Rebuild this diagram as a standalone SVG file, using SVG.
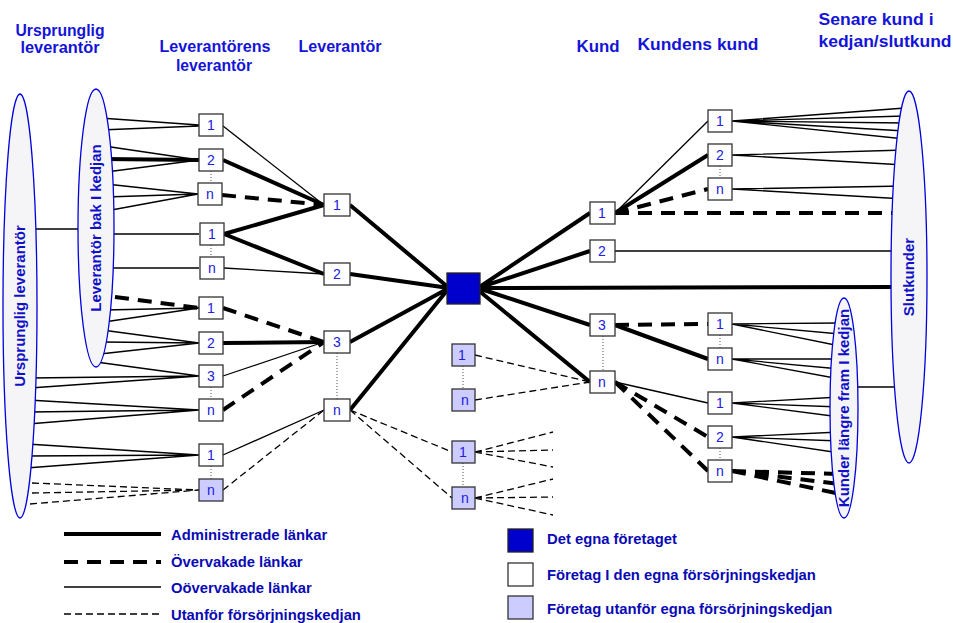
<svg xmlns="http://www.w3.org/2000/svg" width="953" height="623" viewBox="0 0 953 623">
  <style>
    .hdr { font-family: "Liberation Sans", Arial, sans-serif; font-weight: bold; font-size: 16px; fill: #1414d8; text-anchor: middle; }
    .elab { font-family: "Liberation Sans", Arial, sans-serif; font-weight: bold; font-size: 15px; fill: #1010c8; text-anchor: middle; }
    .leg { font-family: "Liberation Sans", Arial, sans-serif; font-weight: bold; font-size: 14.8px; fill: #0a0ab4; }
    .box { fill: #ffffff; stroke: #333333; stroke-width: 1.3; }
    .ext { fill: #ccccff; stroke: #333333; stroke-width: 1.3; }
    .own { fill: #0000cc; stroke: #222222; stroke-width: 1.3; }
    .num { font-family: "Liberation Sans", Arial, sans-serif; font-size: 14px; fill: #2020dd; text-anchor: middle; }
    .ell { fill: #f5f5f7; stroke: #0000dd; stroke-width: 1.3; }
    .thick { stroke: #000; stroke-width: 4; fill: none; }
    .thin { stroke: #000; stroke-width: 1.3; fill: none; }
    .tdash { stroke: #000; stroke-width: 4; fill: none; stroke-dasharray: 14 9; }
    .odash { stroke: #000; stroke-width: 1.3; fill: none; stroke-dasharray: 7 4; }
    .dot { stroke: #555; stroke-width: 1; fill: none; stroke-dasharray: 1 2; }
  </style>

  <!-- column headings -->
  <g id="headings">
    <text class="hdr" x="60" y="36" textLength="89" lengthAdjust="spacingAndGlyphs">Ursprunglig</text>
    <text class="hdr" x="60" y="53" textLength="79" lengthAdjust="spacingAndGlyphs">leverantör</text>
    <text class="hdr" x="215" y="52" textLength="111" lengthAdjust="spacingAndGlyphs">Leverantörens</text>
    <text class="hdr" x="214" y="71" textLength="76" lengthAdjust="spacingAndGlyphs">leverantör</text>
    <text class="hdr" x="340" y="52" textLength="83" lengthAdjust="spacingAndGlyphs">Leverantör</text>
    <text class="hdr" x="598" y="52" textLength="43" lengthAdjust="spacingAndGlyphs">Kund</text>
    <text class="hdr" x="698" y="50" textLength="121" lengthAdjust="spacingAndGlyphs">Kundens kund</text>
    <text class="hdr" x="876" y="25" textLength="115" lengthAdjust="spacingAndGlyphs">Senare kund i</text>
    <text class="hdr" x="885" y="47" textLength="133" lengthAdjust="spacingAndGlyphs">kedjan/slutkund</text>
  </g>

  <!-- links -->
  <g id="connectors">
    <!-- ellipse to ellipse -->
    <path class="thin" d="M30,229 L86,229"/>
    <path class="thin" d="M850,387 L900,387"/>

    <!-- upstream fans into first supplier tier -->
    <path class="thin" d="M100,118 L199,125 M100,130 L199,126"/>
    <path class="thin" d="M104,146 L199,160 M106,172 L199,160"/>
    <path class="thick" d="M104,159 L199,160"/>
    <path class="thin" d="M106,184 L198,194 M106,197 L198,194 M106,211 L198,194"/>
    <path class="thin" d="M106,234 L199,234"/>
    <path class="thin" d="M106,268 L199,268"/>
    <path class="tdash" d="M115,297 L199,308"/>
    <path class="thin" d="M104,310 L199,308 M104,322 L199,308"/>
    <path class="thin" d="M102,330 L199,343 M102,342 L199,343 M100,354 L199,343"/>
    <path class="thin" d="M96,362 L199,376 M30,378 L199,376 M30,388 L199,376"/>
    <path class="thin" d="M28,400 L199,410 M28,412 L199,410 M28,424 L199,410"/>
    <path class="thin" d="M27,444 L199,455 M27,456 L199,455 M26,468 L199,455"/>
    <path class="odash" d="M32,483 L199,490 M32,493 L199,490 M30,504 L199,490"/>

    <!-- supplier's supplier to supplier -->
    <path class="thin" d="M223,126 L324,205"/>
    <path class="thick" d="M223,160 L324,205"/>
    <path class="tdash" d="M222,195 L324,205"/>
    <path class="thick" d="M224,234 L324,205 M224,234 L324,274"/>
    <path class="thin" d="M224,268 L324,274"/>
    <path class="tdash" d="M223,308 L324,342"/>
    <path class="thick" d="M223,343 L324,342"/>
    <path class="thin" d="M223,376 L324,342"/>
    <path class="tdash" d="M223,410 L324,342"/>
    <path class="thin" d="M223,455 L324,410"/>
    <path class="odash" d="M223,490 L324,410"/>

    <!-- supplier to own company -->
    <path class="thick" d="M350,205 L449,288 M350,274 L449,288 M350,342 L449,288 M350,410 L449,288"/>

    <!-- outside the chain -->
    <path class="odash" d="M350,410 L452,452 M350,410 L452,498"/>
    <path class="odash" d="M475,452 L553,432 M475,452 L553,450 M475,452 L553,467"/>
    <path class="odash" d="M475,498 L553,479 M475,498 L553,497 M475,498 L553,515"/>
    <path class="odash" d="M475,355 L590,382 M475,400 L590,382"/>

    <!-- own company to customers -->
    <path class="thick" d="M478,288 L590,213 M478,288 L590,251 M478,288 L900,287 M478,288 L590,325 M478,290 L590,382"/>

    <!-- customer to customer's customer -->
    <path class="thin" d="M615,213 L708,121"/>
    <path class="thick" d="M615,213 L708,155"/>
    <path class="tdash" d="M615,213 L708,189"/>
    <path class="tdash" d="M615,213 L900,213"/>
    <path class="thin" d="M615,251 L900,251"/>
    <path class="tdash" d="M615,325 L708,324"/>
    <path class="thick" d="M615,325 L708,359"/>
    <path class="thin" d="M615,382 L708,403"/>
    <path class="tdash" d="M615,382 L708,437 M615,382 L708,471"/>

    <!-- fans to end customers -->
    <path class="thin" d="M732,121 L905,108 M732,121 L905,116 M732,121 L905,123 M732,121 L905,131 M732,121 L905,139"/>
    <path class="thin" d="M732,155 L905,150 M732,155 L905,165"/>
    <path class="thin" d="M732,189 L905,186 M732,189 L905,199"/>

    <!-- fans to customers further down the chain -->
    <path class="thin" d="M732,324 L840,323 M732,324 L840,334 M732,324 L840,346"/>
    <path class="thin" d="M732,359 L840,359 M732,359 L840,369 M732,359 L840,379"/>
    <path class="thin" d="M732,403 L840,397 M732,403 L840,407 M732,403 L840,417"/>
    <path class="thin" d="M732,437 L840,432 M732,437 L840,441 M732,437 L840,453"/>
    <path class="tdash" d="M732,471 L840,474 M732,471 L840,484 M732,471 L840,494"/>

    <!-- dotted group links -->
    <path class="dot" d="M211,171 V183 M211,245 V257 M211,387 V399 M211,466 V479 M337,353 V399 M463,366 V389 M463,463 V487 M603,336 V371 M720,166 V178 M720,335 V348 M720,448 V460"/>
  </g>

  <!-- groups of firms -->
  <g id="ursprunglig">
    <ellipse class="ell" cx="20" cy="306" rx="17" ry="212"/>
    <text class="elab" transform="translate(25,306) rotate(-90)">Ursprunglig leverantör</text>
  </g>
  <g id="bak-i-kedjan">
    <ellipse class="ell" cx="96" cy="228" rx="18" ry="139"/>
    <text class="elab" transform="translate(101,228) rotate(-90)">Leverantör bak I kedjan</text>
  </g>
  <g id="slutkunder">
    <ellipse class="ell" cx="909" cy="277" rx="18" ry="186"/>
    <text class="elab" transform="translate(914,277) rotate(-90)">Slutkunder</text>
  </g>
  <g id="fram-i-kedjan">
    <ellipse class="ell" cx="844" cy="408" rx="14" ry="110"/>
    <text class="elab" transform="translate(849,408) rotate(-90)">Kunder längre fram I kedjan</text>
  </g>

  <!-- supplier's suppliers -->
  <g id="a1"><rect class="box" x="199" y="114" width="24" height="22"/><text class="num" x="211" y="130">1</text></g>
  <g id="a2"><rect class="box" x="199" y="149" width="24" height="22"/><text class="num" x="211" y="165">2</text></g>
  <g id="an"><rect class="box" x="198" y="183" width="24" height="22"/><text class="num" x="210" y="199">n</text></g>
  <g id="a1b"><rect class="box" x="200" y="223" width="24" height="22"/><text class="num" x="212" y="239">1</text></g>
  <g id="anb"><rect class="box" x="200" y="257" width="24" height="22"/><text class="num" x="212" y="273">n</text></g>
  <g id="a1c"><rect class="box" x="199" y="297" width="24" height="22"/><text class="num" x="211" y="313">1</text></g>
  <g id="a2c"><rect class="box" x="199" y="332" width="24" height="22"/><text class="num" x="211" y="348">2</text></g>
  <g id="a3c"><rect class="box" x="199" y="365" width="24" height="22"/><text class="num" x="211" y="381">3</text></g>
  <g id="anc"><rect class="box" x="199" y="399" width="24" height="22"/><text class="num" x="211" y="415">n</text></g>
  <g id="a1d"><rect class="box" x="199" y="444" width="24" height="22"/><text class="num" x="211" y="460">1</text></g>
  <g id="and"><rect class="ext" x="199" y="479" width="24" height="22"/><text class="num" x="211" y="495">n</text></g>

  <!-- suppliers -->
  <g id="b1"><rect class="box" x="324" y="194" width="26" height="22"/><text class="num" x="337" y="210">1</text></g>
  <g id="b2"><rect class="box" x="324" y="263" width="26" height="22"/><text class="num" x="337" y="279">2</text></g>
  <g id="b3"><rect class="box" x="324" y="331" width="26" height="22"/><text class="num" x="337" y="347">3</text></g>
  <g id="bn"><rect class="box" x="324" y="399" width="26" height="22"/><text class="num" x="337" y="415">n</text></g>

  <!-- own company -->
  <g id="own"><rect class="own" x="447" y="273" width="33" height="31"/></g>

  <!-- firms outside the chain -->
  <g id="x1"><rect class="ext" x="452" y="344" width="23" height="22"/><text class="num" x="462" y="360">1</text></g>
  <g id="xn"><rect class="ext" x="452" y="389" width="23" height="22"/><text class="num" x="465" y="405">n</text></g>
  <g id="x1b"><rect class="ext" x="452" y="441" width="23" height="22"/><text class="num" x="463" y="457">1</text></g>
  <g id="xnb"><rect class="ext" x="452" y="487" width="23" height="22"/><text class="num" x="465" y="503">n</text></g>

  <!-- customers -->
  <g id="k1"><rect class="box" x="590" y="202" width="25" height="22"/><text class="num" x="602" y="218">1</text></g>
  <g id="k2"><rect class="box" x="590" y="240" width="25" height="22"/><text class="num" x="602" y="256">2</text></g>
  <g id="k3"><rect class="box" x="590" y="314" width="25" height="22"/><text class="num" x="602" y="330">3</text></g>
  <g id="kn"><rect class="box" x="590" y="371" width="25" height="22"/><text class="num" x="602" y="387">n</text></g>

  <!-- customer's customers -->
  <g id="c1"><rect class="box" x="708" y="110" width="24" height="22"/><text class="num" x="720" y="126">1</text></g>
  <g id="c2"><rect class="box" x="708" y="144" width="24" height="22"/><text class="num" x="720" y="160">2</text></g>
  <g id="cn"><rect class="box" x="708" y="178" width="24" height="22"/><text class="num" x="720" y="194">n</text></g>
  <g id="c1b"><rect class="box" x="708" y="313" width="24" height="22"/><text class="num" x="720" y="329">1</text></g>
  <g id="cnb"><rect class="box" x="708" y="348" width="24" height="22"/><text class="num" x="720" y="364">n</text></g>
  <g id="c1c"><rect class="box" x="708" y="392" width="24" height="22"/><text class="num" x="720" y="408">1</text></g>
  <g id="c2c"><rect class="box" x="708" y="426" width="24" height="22"/><text class="num" x="720" y="442">2</text></g>
  <g id="cnc"><rect class="box" x="708" y="460" width="24" height="22"/><text class="num" x="720" y="476">n</text></g>

  <!-- legend: link types -->
  <g id="legend-links">
    <path class="thick" d="M64,534 H161"/>
    <text class="leg" x="171" y="540">Administrerade länkar</text>
    <path class="tdash" d="M64,562 H161"/>
    <text class="leg" x="171" y="567">Övervakade länkar</text>
    <path class="thin" d="M64,587 H161"/>
    <text class="leg" x="171" y="593">Oövervakade länkar</text>
    <path class="odash" d="M64,614 H161"/>
    <text class="leg" x="171" y="620">Utanför försörjningskedjan</text>
  </g>

  <!-- legend: firm types -->
  <g id="legend-firms">
    <rect class="own" x="508" y="529" width="25" height="23"/>
    <text class="leg" x="547" y="544">Det egna företaget</text>
    <rect class="box" x="508" y="563" width="25" height="23"/>
    <text class="leg" x="547" y="580">Företag I den egna försörjningskedjan</text>
    <rect class="ext" x="508" y="596" width="25" height="23"/>
    <text class="leg" x="547" y="614">Företag utanför egna försörjningskedjan</text>
  </g>
</svg>
